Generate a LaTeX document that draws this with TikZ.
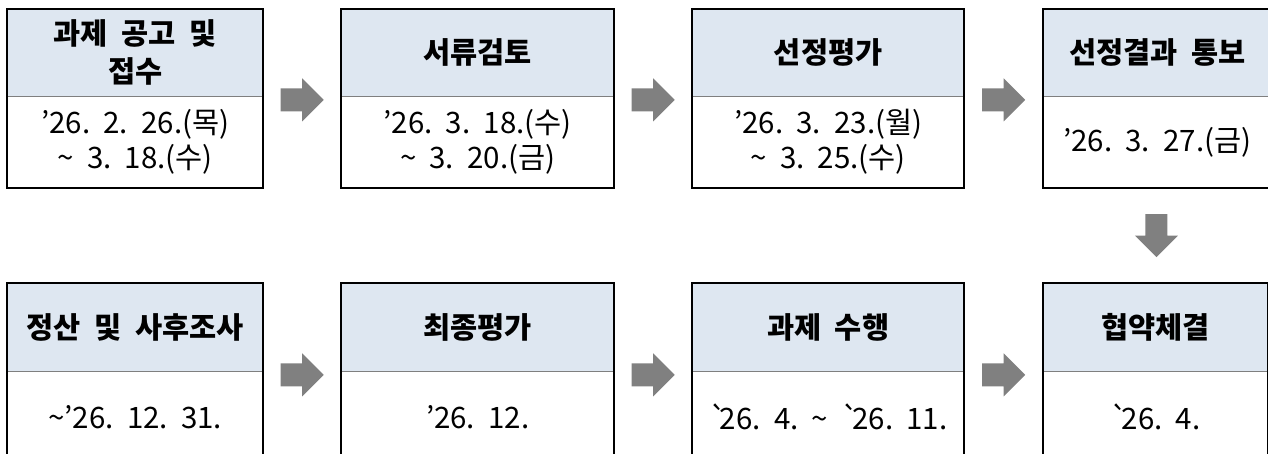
\documentclass[tikz,border=0pt]{standalone}
\usepackage{fontspec}
\setmainfont{Noto Sans CJK KR}[Ligatures=TeXOff]
\usetikzlibrary{calc}
\definecolor{hdrblue}{HTML}{DEE7F1}
\definecolor{agray}{HTML}{808080}
\definecolor{divgray}{HTML}{7F7F7F}
\newcommand{\tld}{\symbol{"7E}}
\newcommand{\bq}{\symbol{"60}\kern-7pt}
\tikzset{
  hdrbox/.style={fill=hdrblue, inner sep=0pt, anchor=north west, align=center,
    font=\fontsize{29.5}{37.5}\selectfont\bfseries},
  datebox/.style={inner sep=0pt, anchor=north west, align=center,
    font=\fontsize{29.5}{35}\selectfont},
  frame/.style={line width=2pt, draw=black},
  divline/.style={line width=1pt, draw=divgray},
  rarrow/.pic={\fill[agray] (-21.5,-11.5) -- (0,-11.5) -- (0,-21.5) -- (21.5,0) -- (0,21.5) -- (0,11.5) -- (-21.5,11.5) -- cycle;},
  darrow/.pic={\fill[agray] (-11,-21.5) -- (11,-21.5) -- (11,0) -- (21.5,0) -- (0,21.5) -- (-21.5,0) -- (-11,0) -- cycle;}
}
\begin{document}
\begin{tikzpicture}[x=1pt, y=-1pt]
\useasboundingbox (0,0) rectangle (1268,454);
\fill[white] (0,0) rectangle (1268,454);
% top row
\node[hdrbox, minimum width=256pt, minimum height=87pt] (h1) at (7,9) {과제\ \ 공고\ \ 및\\접수};
\node[datebox, minimum width=256pt, minimum height=92pt] (d1) at (7,96) {’26.\ \ 2.\ \ 26.(목)\\\tld\ \ 3.\ \ 18.(수)};
\node[hdrbox, minimum width=273pt, minimum height=87pt] (h2) at (341,9) {서류검토};
\node[datebox, minimum width=273pt, minimum height=92pt] (d2) at (341,96) {’26.\ \ 3.\ \ 18.(수)\\\tld\ \ 3.\ \ 20.(금)};
\node[hdrbox, minimum width=272pt, minimum height=87pt] (h3) at (692,9) {선정평가};
\node[datebox, minimum width=272pt, minimum height=92pt] (d3) at (692,96) {’26.\ \ 3.\ \ 23.(월)\\\tld\ \ 3.\ \ 25.(수)};
\node[hdrbox, minimum width=228pt, minimum height=87pt] (h4) at (1043,9) {선정결과\ \ 통보};
\node[datebox, minimum width=228pt, minimum height=92pt] (d4) at (1043,96) {’26.\ \ 3.\ \ 27.(금)};
% bottom row
\node[hdrbox, minimum width=256pt, minimum height=88pt] (h5) at (7,283) {정산\ \ 및\ \ 사후조사};
\node[datebox, minimum width=256pt, minimum height=91pt] (d5) at (7,371) {\tld’26.\ \ 12.\ \ 31.};
\node[hdrbox, minimum width=273pt, minimum height=88pt] (h6) at (341,283) {최종평가};
\node[datebox, minimum width=273pt, minimum height=91pt] (d6) at (341,371) {’26.\ \ 12.};
\node[hdrbox, minimum width=272pt, minimum height=88pt] (h7) at (692,283) {과제\ \ 수행};
\node[datebox, minimum width=272pt, minimum height=91pt] (d7) at (692,371) {\bq26.\ \ 4.\ \ \tld\ \ \bq26.\ \ 11.};
\node[hdrbox, minimum width=225pt, minimum height=88pt] (h8) at (1043,283) {협약체결};
\node[datebox, minimum width=225pt, minimum height=91pt] (d8) at (1043,371) {\bq26.\ \ 4.};
% dividers and frames
\foreach \i in {1,...,8}{
  \draw[divline] (h\i.south west) -- (h\i.south east);
}
\foreach \i in {1,...,8}{
  \draw[frame] (h\i.north west) rectangle (d\i.south east);
}
% arrows
\pic at ($(h1.south east)!0.5!(h2.south west)+(0,3.5)$) {rarrow};
\pic at ($(h2.south east)!0.5!(h3.south west)+(0,3.5)$) {rarrow};
\pic at ($(h3.south east)!0.5!(h4.south west)+(0,3.5)$) {rarrow};
\pic at ($(d4.south)!0.5!(h8.north)$) {darrow};
\pic at ($(h5.south east)!0.5!(h6.south west)+(0,3.5)$) {rarrow};
\pic at ($(h6.south east)!0.5!(h7.south west)+(0,3.5)$) {rarrow};
\pic at ($(h7.south east)!0.5!(h8.south west)+(0,3.5)$) {rarrow};
\end{tikzpicture}
\end{document}
